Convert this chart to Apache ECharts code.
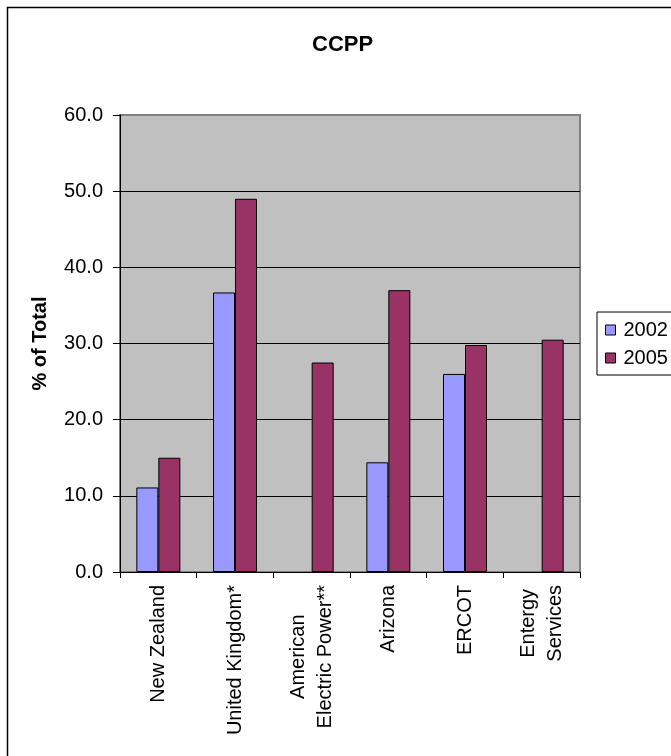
<!DOCTYPE html>
<html>
<head>
<meta charset="utf-8">
<script src="https://cdn.jsdelivr.net/npm/echarts@6/dist/echarts.min.js"></script>
<style>html,body{margin:0;padding:0;background:#fff;}#c{width:671px;height:756px;}</style>
</head>
<body>
<div id="c"></div>
<script>
const categories = ['New Zealand', 'United Kingdom*', 'American\nElectric Power**', 'Arizona', 'ERCOT', 'Entergy\nServices'];
const values2002 = [11.1, 36.7, null, 14.4, 26.0, null];
const values2005 = [15.0, 49.0, 27.5, 37.0, 29.8, 30.5];
const seriesNames = ['2002', '2005'];
const yTicks = [0, 10, 20, 30, 40, 50, 60];

const FONT = '"Liberation Sans", Arial, sans-serif';
const chart = echarts.init(document.getElementById('c'), null, {renderer: 'canvas'});
chart.setOption({
  animation: false,
  backgroundColor: '#ffffff',
  textStyle: {fontFamily: FONT},
  title: {
    text: 'CCPP', left: 312, top: 34, padding: 0,
    textStyle: {fontFamily: FONT, fontSize: 22, fontWeight: 'bold', color: '#000'}
  },
  graphic: [{
    type: 'rect', silent: true, z: -10,
    shape: {x: 7.5, y: 7.5, width: 720, height: 800},
    style: {fill: 'none', stroke: '#000', lineWidth: 1.5}
  }],
  legend: {
    orient: 'vertical', left: 597, top: 312,
    padding: [8, 10, 7, 8], itemGap: 8,
    itemWidth: 10, itemHeight: 10, itemStyle: {borderColor: '#000', borderWidth: 1},
    borderColor: '#000', borderWidth: 1,
    icon: 'rect',
    textStyle: {fontFamily: FONT, fontSize: 20, color: '#000', lineHeight: 20, padding: [0, 0, 0, 3]},
    data: seriesNames
  },
  grid: {
    left: 120, top: 115, width: 460, height: 457,
    show: true, backgroundColor: '#C0C0C0', borderColor: '#808080', borderWidth: 2
  },
  xAxis: {
    type: 'category', data: categories,
    axisLine: {lineStyle: {color: '#000', width: 1}},
    axisTick: {show: true, length: 6, lineStyle: {color: '#000'}},
    axisLabel: {
      rotate: 90, margin: 13, interval: 0, color: '#000', fontFamily: FONT, fontSize: 20,
      formatter: function (v) { return v.split('\n').map(s => '{c|' + s + '}').join('\n'); },
      rich: {c: {align: 'center', fontFamily: FONT, fontSize: 20, lineHeight: 27, color: '#000'}}
    }
  },
  yAxis: {
    type: 'value', min: yTicks[0], max: yTicks[yTicks.length - 1], interval: 10,
    name: '% of Total', nameLocation: 'middle', nameGap: 70,
    nameTextStyle: {fontFamily: FONT, fontSize: 20, fontWeight: 'bold', color: '#000'},
    axisLine: {show: true, lineStyle: {color: '#000', width: 1}},
    axisTick: {show: true, length: 7, lineStyle: {color: '#000'}},
    axisLabel: {margin: 17, color: '#000', fontFamily: FONT, fontSize: 20,
      formatter: v => v.toFixed(1)},
    splitLine: {show: true, lineStyle: {color: ['#000', '#000', '#000', '#000', '#000', '#000', 'rgba(0,0,0,0)'], width: 1}}
  },
  series: [
    {name: seriesNames[0], type: 'bar', data: values2002, barWidth: 22, barGap: '0%',
      itemStyle: {color: '#9999FF', borderColor: '#000', borderWidth: 1}},
    {name: seriesNames[1], type: 'bar', data: values2005, barWidth: 22, barGap: '0%',
      itemStyle: {color: '#993366', borderColor: '#000', borderWidth: 1}}
  ]
});
</script>
</body>
</html>
